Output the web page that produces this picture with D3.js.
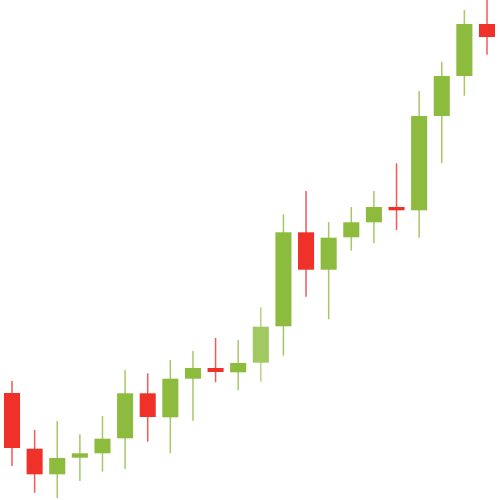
<!DOCTYPE html>
<html>
<head>
<meta charset="utf-8">
<script src="https://cdn.jsdelivr.net/npm/d3@7"></script>
<style>
  html, body { margin: 0; padding: 0; background: #fff; }
  svg { display: block; }
</style>
</head>
<body>
<svg id="chart" width="500" height="500"></svg>
<script>
// Candle data (price units)
const days  = d3.range(1, 23);
const opens  = [107, 51.3, 25.7, 42.3, 46.7, 61.7, 106.7, 82.7, 121.3, 132, 127.7, 137.3, 173.7, 267.7, 230.3, 262.7, 277.7, 293, 289.7, 384, 424, 476];
const closes = [52, 25.7, 42, 46.7, 61.3, 106.7, 83, 121.3, 132, 128, 137, 173.3, 267.7, 230.3, 262.3, 277.7, 293, 289.7, 384, 424, 476, 463];
const highs  = [119, 70, 79, 65.7, 84, 130, 126.7, 140, 149, 162, 160, 192.7, 285.7, 309, 278, 293, 309, 336.7, 409, 438.3, 490, 502];
const lows   = [34, 7.3, 2, 19, 28.3, 31, 58.3, 46.7, 79.3, 117.7, 109.7, 118.3, 144.3, 203.3, 180.7, 249.3, 256.7, 270, 262.3, 336.7, 404.3, 445.3];
const highlighted = [12];

const data = days.map((d, i) => ({ day: d, open: opens[i], close: closes[i], high: highs[i], low: lows[i] }));

const svg = d3.select("#chart");
const x = d3.scaleBand().domain(days).range([0.7, 498.3]).paddingInner(0.29).paddingOuter(0.145);
const y = d3.scaleLinear().domain([0, 500]).range([500, 0]);

const up = "#8dbb3e", upHi = "#a2c862", down = "#f03129";
const col = d => d.close >= d.open ? (highlighted.includes(d.day) ? upHi : up) : down;

const g = svg.append("g").selectAll("g").data(data).join("g");

g.append("line")
  .attr("x1", d => x(d.day) + x.bandwidth() / 2)
  .attr("x2", d => x(d.day) + x.bandwidth() / 2)
  .attr("y1", d => y(d.high))
  .attr("y2", d => y(d.low))
  .attr("stroke", col)
  .attr("stroke-opacity", 0.8)
  .attr("stroke-width", 1.5);

g.append("rect")
  .attr("x", d => x(d.day))
  .attr("width", x.bandwidth())
  .attr("y", d => y(Math.max(d.open, d.close)))
  .attr("height", d => Math.max(1, Math.abs(y(d.open) - y(d.close))))
  .attr("fill", col);
</script>
</body>
</html>
